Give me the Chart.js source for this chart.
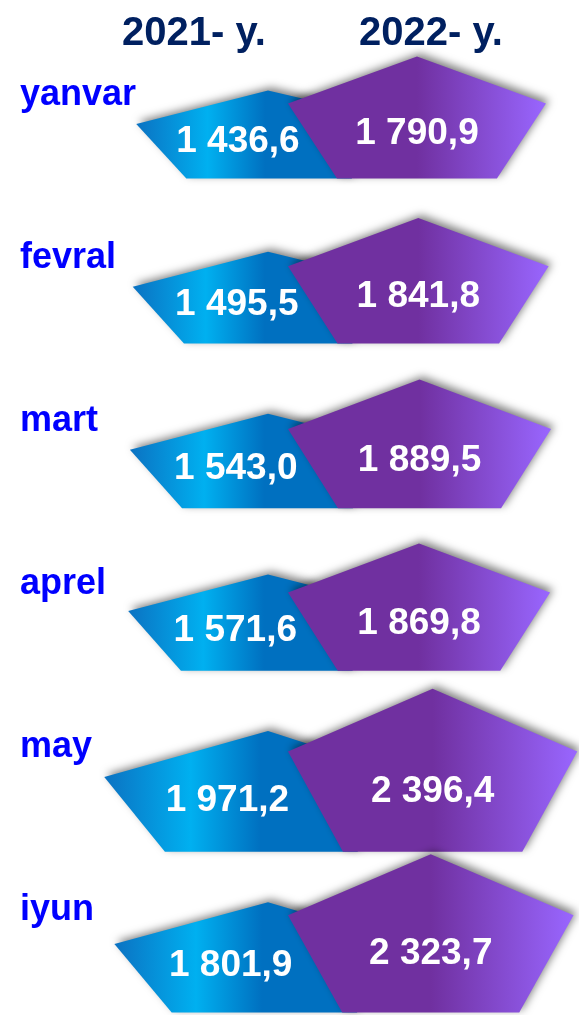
<!DOCTYPE html>
<html>
<head>
<meta charset="utf-8">
<script src="https://cdn.jsdelivr.net/npm/chart.js@4.4.1/dist/chart.umd.min.js"></script>
<style>
    html, body { margin: 0; padding: 0; background: #fff; }
    #wrap { width: 579px; height: 1015px; position: relative; }
</style>
</head>
<body>
<div id="wrap"><canvas id="myChart"></canvas></div>
<script>
var months = ['yanvar', 'fevral', 'mart', 'aprel', 'may', 'iyun'];
var years = ['2021- y.', '2022- y.'];
var values2021 = [1436.6, 1495.5, 1543.0, 1571.6, 1971.2, 1801.9];
var values2022 = [1790.9, 1841.8, 1889.5, 1869.8, 2396.4, 2323.7];

var FONT = "Arial, 'Liberation Sans', sans-serif";

// 1436.6 -> "1 436,6"
function fmt(v) {
    var parts = v.toFixed(1).split('.');
    return parts[0].replace(/\B(?=(\d{3})+(?!\d))/g, ' ') + ',' + parts[1];
}

function poly(ctx, pts) {
    ctx.beginPath();
    ctx.moveTo(pts[0][0], pts[0][1]);
    for (var i = 1; i < pts.length; i++) ctx.lineTo(pts[i][0], pts[i][1]);
    ctx.closePath();
}

// draws each bar as the blue quadrilateral / purple pentagon
var shapes = {
    id: 'shapes',
    afterDatasetsDraw: function (chart) {
        var ctx = chart.ctx;
        var x0 = chart.scales.xR.left;
        var blue = chart.getDatasetMeta(0).data;
        var purple = chart.getDatasetMeta(1).data;
        var maxB = Math.max.apply(null, values2021);
        var maxP = Math.max.apply(null, values2022);
        var texts = [];

        ctx.save();
        ctx.shadowColor = 'rgba(0,0,0,0.5)';
        ctx.shadowBlur = 8;
        ctx.shadowOffsetX = 3;
        ctx.shadowOffsetY = -3;

        for (var i = 0; i < months.length; i++) {
            var pb = purple[i];
            var h = pb.height * values2022[i] / maxP;
            var top = pb.y - h / 2;
            var bottom = pb.y + h / 2;
            var right = pb.x;
            var w = right - x0;
            var sideY = top + 0.385 * h;

            var bb = blue[i];
            var tip = bb.x;
            var d = x0 - tip;
            var hb = bb.height * 0.74 * values2021[i] / maxB;
            var btop = bottom - hb;

            // blue
            var g = ctx.createLinearGradient(tip, 0, x0, 0);
            g.addColorStop(0, '#0b72c2');
            g.addColorStop(0.47, '#00b0f0');
            g.addColorStop(0.85, '#0070c0');
            g.addColorStop(1, '#0070c0');
            ctx.fillStyle = g;
            poly(ctx, [
                [tip, btop + 0.38 * hb],
                [x0 - 20, btop],
                [x0 + 25, btop + 0.12 * hb],
                [x0 + 0.19 * w + 15, bottom],
                [tip + 0.33 * d, bottom]
            ]);
            ctx.fill();

            // purple
            var gp = ctx.createLinearGradient(x0, 0, right, 0);
            gp.addColorStop(0, '#7030a0');
            gp.addColorStop(0.5, '#7030a0');
            gp.addColorStop(1, '#9966ff');
            ctx.fillStyle = gp;
            poly(ctx, [
                [x0, sideY],
                [x0 + 0.5 * w, top],
                [right, sideY],
                [x0 + 0.81 * w, bottom],
                [x0 + 0.19 * w, bottom]
            ]);
            ctx.fill();

            texts.push([fmt(values2021[i]), x0 - 0.33 * d, bottom - 0.42 * hb]);
            texts.push([fmt(values2022[i]), x0 + 0.5 * w, top + 0.63 * h]);
        }
        ctx.restore();

        ctx.save();
        ctx.fillStyle = '#ffffff';
        ctx.font = 'bold 37px ' + FONT;
        ctx.textAlign = 'center';
        ctx.textBaseline = 'middle';
        texts.forEach(function (t) { ctx.fillText(t[0], t[1], t[2]); });

        // year headers
        ctx.fillStyle = '#002060';
        ctx.font = 'bold 40px ' + FONT;
        ctx.textBaseline = 'alphabetic';
        ctx.fillText(years[0], x0 - 94, 45);
        ctx.fillText(years[1], x0 + 143, 45);
        ctx.restore();
    }
};

var ctx = document.getElementById('myChart').getContext('2d');
var chart = new Chart(ctx, {
    type: 'bar',
    data: {
        labels: months,
        datasets: [{
            label: years[0],
            data: values2021,
            xAxisID: 'xL',
            yAxisID: 'y',
            backgroundColor: 'rgba(0,0,0,0)',
            borderWidth: 0,
            grouped: false,
            barPercentage: 1,
            categoryPercentage: 1
        }, {
            label: years[1],
            data: values2022,
            xAxisID: 'xR',
            yAxisID: 'y',
            backgroundColor: 'rgba(0,0,0,0)',
            borderWidth: 0,
            grouped: false,
            barPercentage: 1,
            categoryPercentage: 1
        }]
    },
    options: {
        indexAxis: 'y',
        responsive: true,
        maintainAspectRatio: false,
        animation: false,
        layout: { padding: { left: 20, top: 36, right: 0, bottom: 0 } },
        scales: {
            xL: {
                type: 'linear', position: 'bottom', stack: 'years', stackWeight: 268,
                reverse: true, min: -1100, max: 3380,
                ticks: { display: false },
                grid: { display: false, drawTicks: false },
                border: { display: false }
            },
            xR: {
                type: 'linear', position: 'bottom', stack: 'years', stackWeight: 291,
                min: -3200, max: 2430,
                ticks: { display: false },
                grid: { display: false, drawTicks: false },
                border: { display: false }
            },
            y: {
                type: 'category',
                grid: { display: false, drawTicks: false },
                border: { display: false },
                afterFit: function (scale) {
                    scale.width = 0;
                    scale.paddingTop = 0;
                    scale.paddingBottom = 0;
                },
                ticks: {
                    mirror: true,
                    crossAlign: 'near',
                    padding: 0,
                    labelOffset: -23,
                    color: '#0000ff',
                    font: { family: FONT, size: 36, weight: 'bold' }
                }
            }
        },
        plugins: {
            legend: { display: false },
            tooltip: { enabled: false }
        }
    },
    plugins: [shapes]
});
</script>
</body>
</html>
